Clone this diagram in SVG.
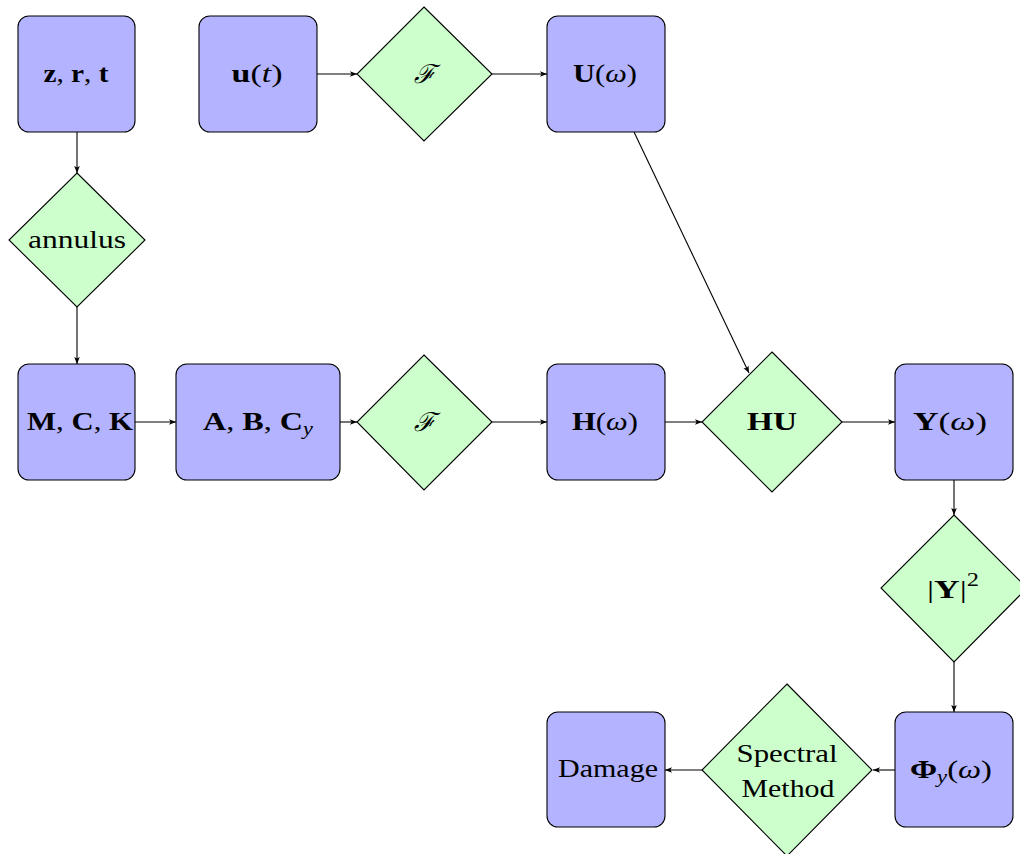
<svg xmlns="http://www.w3.org/2000/svg" width="1020" height="854" viewBox="0 0 1020 854">
<style>
.box{fill:#b3b3ff;stroke:#000;stroke-width:1.1}
.dia{fill:#ccffcc;stroke:#000;stroke-width:1.1}
.lbl{font-family:"Liberation Serif","DejaVu Serif",serif;font-size:26px;text-anchor:middle;fill:#000}
.b{font-weight:bold}
.i{font-style:italic}
.conn line{stroke:#000;stroke-width:1.1;marker-end:url(#ah)}
</style>
<defs>
<marker id="ah" markerUnits="userSpaceOnUse" viewBox="-1 -4 9 8" markerWidth="9" markerHeight="8" refX="7" refY="0" orient="auto">
<path d="M0,-2.8 L7,0 L0,2.8 L1.6,0 Z" fill="#000"/>
</marker>
</defs>
<rect width="1020" height="854" fill="#fff"/>
<g class="conn">
<line x1="77" y1="132" x2="77" y2="173"/>
<line x1="77" y1="307" x2="77" y2="364"/>
<line x1="317" y1="74" x2="357" y2="74"/>
<line x1="492" y1="74" x2="547" y2="74"/>
<line x1="634" y1="132" x2="749" y2="373"/>
<line x1="135" y1="422" x2="176" y2="422"/>
<line x1="340" y1="422" x2="357" y2="422"/>
<line x1="492" y1="422" x2="547" y2="422"/>
<line x1="665" y1="422" x2="702" y2="422"/>
<line x1="842" y1="422" x2="895" y2="422"/>
<line x1="954" y1="480" x2="954" y2="515"/>
<line x1="954" y1="662" x2="954" y2="712"/>
<line x1="895" y1="770" x2="873" y2="770"/>
<line x1="702" y1="770" x2="665" y2="770"/>
</g>
<g id="n-zrt">
<rect class="box" x="18" y="16" width="117" height="116" rx="11"/>
<text class="lbl" x="76" y="82" textLength="65" lengthAdjust="spacingAndGlyphs"><tspan class="b">z</tspan>, <tspan class="b">r</tspan>, <tspan class="b">t</tspan></text>
</g>
<g id="n-ut">
<rect class="box" x="199" y="16" width="118" height="116" rx="11"/>
<text class="lbl" x="257" y="82" textLength="51" lengthAdjust="spacingAndGlyphs"><tspan class="b">u</tspan>(<tspan class="i">t</tspan>)</text>
</g>
<g id="n-F1">
<polygon class="dia" points="424,7 492,74 424,141 357,74"/>
<text class="lbl i" x="424" y="83" font-size="28">ℱ</text>
</g>
<g id="n-Uw">
<rect class="box" x="547" y="16" width="118" height="116" rx="11"/>
<text class="lbl" x="605" y="82" textLength="64" lengthAdjust="spacingAndGlyphs"><tspan class="b">U</tspan>(<tspan class="i">ω</tspan>)</text>
</g>
<g id="n-annulus">
<polygon class="dia" points="77,173 145,240 77,307 9,240"/>
<text class="lbl" x="77" y="248" textLength="98" lengthAdjust="spacingAndGlyphs">annulus</text>
</g>
<g id="n-MCK">
<rect class="box" x="18" y="364" width="117" height="116" rx="11"/>
<text class="lbl" x="80" y="430" textLength="106" lengthAdjust="spacingAndGlyphs"><tspan class="b">M</tspan>, <tspan class="b">C</tspan>, <tspan class="b">K</tspan></text>
</g>
<g id="n-ABC">
<rect class="box" x="176" y="364" width="164" height="116" rx="11"/>
<text class="lbl" x="258" y="430" textLength="110" lengthAdjust="spacingAndGlyphs"><tspan class="b">A</tspan>, <tspan class="b">B</tspan>, <tspan class="b">C</tspan><tspan class="i" font-size="18" dy="5">y</tspan></text>
</g>
<g id="n-F2">
<polygon class="dia" points="424,355 492,422 424,490 357,422"/>
<text class="lbl i" x="424" y="431" font-size="28">ℱ</text>
</g>
<g id="n-Hw">
<rect class="box" x="547" y="364" width="118" height="116" rx="11"/>
<text class="lbl" x="605" y="430" textLength="66" lengthAdjust="spacingAndGlyphs"><tspan class="b">H</tspan>(<tspan class="i">ω</tspan>)</text>
</g>
<g id="n-HU">
<polygon class="dia" points="772,352 842,422 772,492 702,422"/>
<text class="lbl b" x="772" y="430" textLength="50" lengthAdjust="spacingAndGlyphs">HU</text>
</g>
<g id="n-Yw">
<rect class="box" x="895" y="364" width="118" height="116" rx="11"/>
<text class="lbl" x="950" y="430" textLength="74" lengthAdjust="spacingAndGlyphs"><tspan class="b">Y</tspan>(<tspan class="i">ω</tspan>)</text>
</g>
<g id="n-Y2">
<polygon class="dia" points="954,515 1027,588 954,662 881,588"/>
<text class="lbl" x="953" y="598" textLength="52" lengthAdjust="spacingAndGlyphs">|<tspan class="b">Y</tspan>|<tspan font-size="18" dy="-12">2</tspan></text>
</g>
<g id="n-Phi">
<rect class="box" x="895" y="712" width="118" height="115" rx="11"/>
<text class="lbl" x="951" y="778" textLength="82" lengthAdjust="spacingAndGlyphs"><tspan class="b">Φ</tspan><tspan class="i" font-size="18" dy="5">y</tspan><tspan dy="-5">(</tspan><tspan class="i">ω</tspan>)</text>
</g>
<g id="n-SM">
<polygon class="dia" points="787,684 872,770 787,856 702,770"/>
<text class="lbl" x="787" y="762" textLength="101" lengthAdjust="spacingAndGlyphs">Spectral</text>
<text class="lbl" x="788" y="797" textLength="93" lengthAdjust="spacingAndGlyphs">Method</text>
</g>
<g id="n-Damage">
<rect class="box" x="547" y="712" width="118" height="115" rx="11"/>
<text class="lbl" x="608" y="777" textLength="100" lengthAdjust="spacingAndGlyphs">Damage</text>
</g>
</svg>
